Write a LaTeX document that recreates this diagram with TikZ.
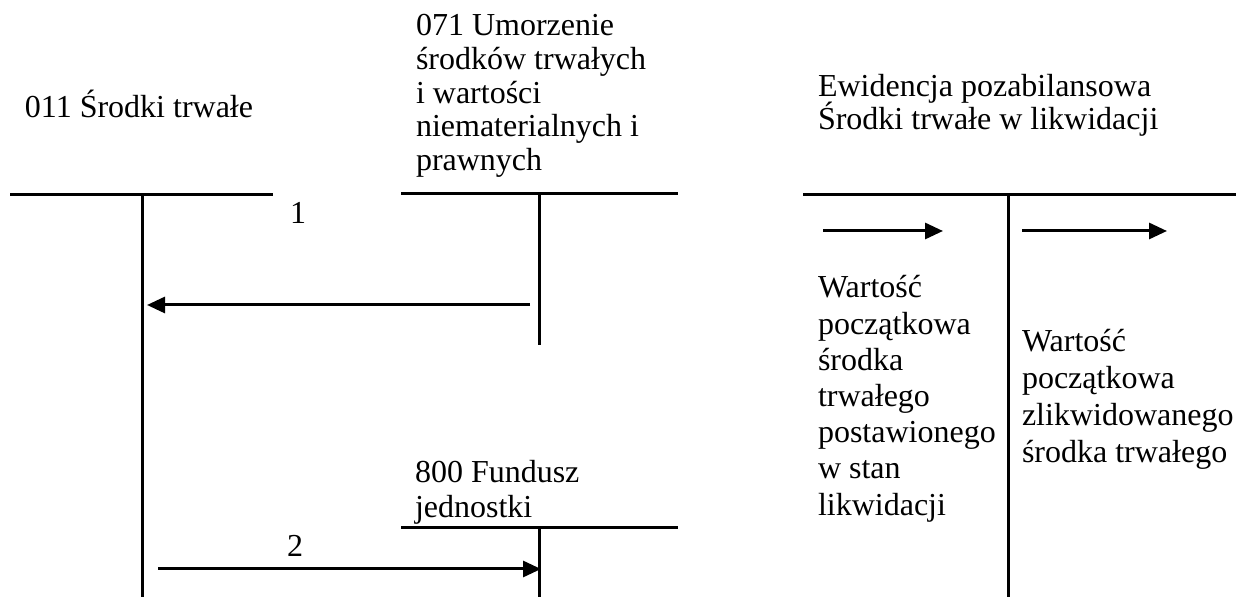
\documentclass[tikz,border=0pt]{standalone}
\usepackage{fontspec}
\setmainfont{Liberation Serif}
\usetikzlibrary{arrows.meta}
\newcommand\mlines[2]{\vtop{\baselineskip=#1\relax\lineskiplimit=-\maxdimen\lineskip=0pt\halign{##\hfil\cr#2\crcr}}}
\tikzset{
  acct/.style={line width=1.5pt},
  flow/.style={line width=1.5pt,-{Triangle[length=9pt,width=8pt]}},
  lbl/.style={anchor=base west,inner sep=0pt,outer sep=0pt,font=\fontsize{16}{18}\selectfont}
}
\begin{document}
\begin{tikzpicture}[x=0.5pt,y=-0.5pt]
\useasboundingbox (0,0) rectangle (1236,597);
% labels
\node[lbl] (t011) at (25,118) {011 Środki trwałe};
\node[lbl] (t071) at (416,36) {\mlines{16.8pt}{071 Umorzenie\cr środków trwałych\cr i wartości\cr niematerialnych i\cr prawnych}};
\node[lbl] (tew) at (818,97) {\mlines{16.5pt}{Ewidencja pozabilansowa\cr Środki trwałe w likwidacji}};
\node[lbl] (tw1) at (818,298) {\mlines{18.1pt}{Wartość\cr początkowa\cr środka\cr trwałego\cr postawionego\cr w stan\cr likwidacji}};
\node[lbl] (tw2) at (1022,352) {\mlines{18.4pt}{Wartość\cr początkowa\cr zlikwidowanego\cr środka trwałego}};
\node[lbl] (t800) at (415,483) {\mlines{17.5pt}{800 Fundusz\cr jednostki}};
\node[lbl] (n1) at (290,224) {1};
\node[lbl] (n2) at (287,557) {2};
% T-accounts
\coordinate (a011l) at (10,195);  \coordinate (a011r) at (273,195);
\coordinate (a011t) at (142,195); \coordinate (a011b) at (142,597);
\coordinate (a071l) at (401,194); \coordinate (a071r) at (678,194);
\coordinate (a071t) at (539,194); \coordinate (a071b) at (539,345);
\coordinate (a800l) at (401,528); \coordinate (a800r) at (678,528);
\coordinate (a800t) at (539,528); \coordinate (a800b) at (539,597);
\coordinate (aewl) at (803,195);  \coordinate (aewr) at (1236,195);
\coordinate (aewt) at (1008,195); \coordinate (aewb) at (1008,597);
\draw[acct] (a011l) -- (a011r) (a011t) -- (a011b);
\draw[acct] (a071l) -- (a071r) (a071t) -- (a071b);
\draw[acct] (a800l) -- (a800r) (a800t) -- (a800b);
\draw[acct] (aewl) -- (aewr) (aewt) -- (aewb);
% flows
\coordinate (f1s) at (530,305); \coordinate (f1e) at (147,305);
\coordinate (f2s) at (158,569); \coordinate (f2e) at (541,569);
\coordinate (f3s) at (823,231); \coordinate (f3e) at (943,231);
\coordinate (f4s) at (1022,231); \coordinate (f4e) at (1167,231);
\draw[flow] (f1s) -- (f1e);
\draw[flow] (f2s) -- (f2e);
\draw[flow] (f3s) -- (f3e);
\draw[flow] (f4s) -- (f4e);
\end{tikzpicture}
\end{document}
